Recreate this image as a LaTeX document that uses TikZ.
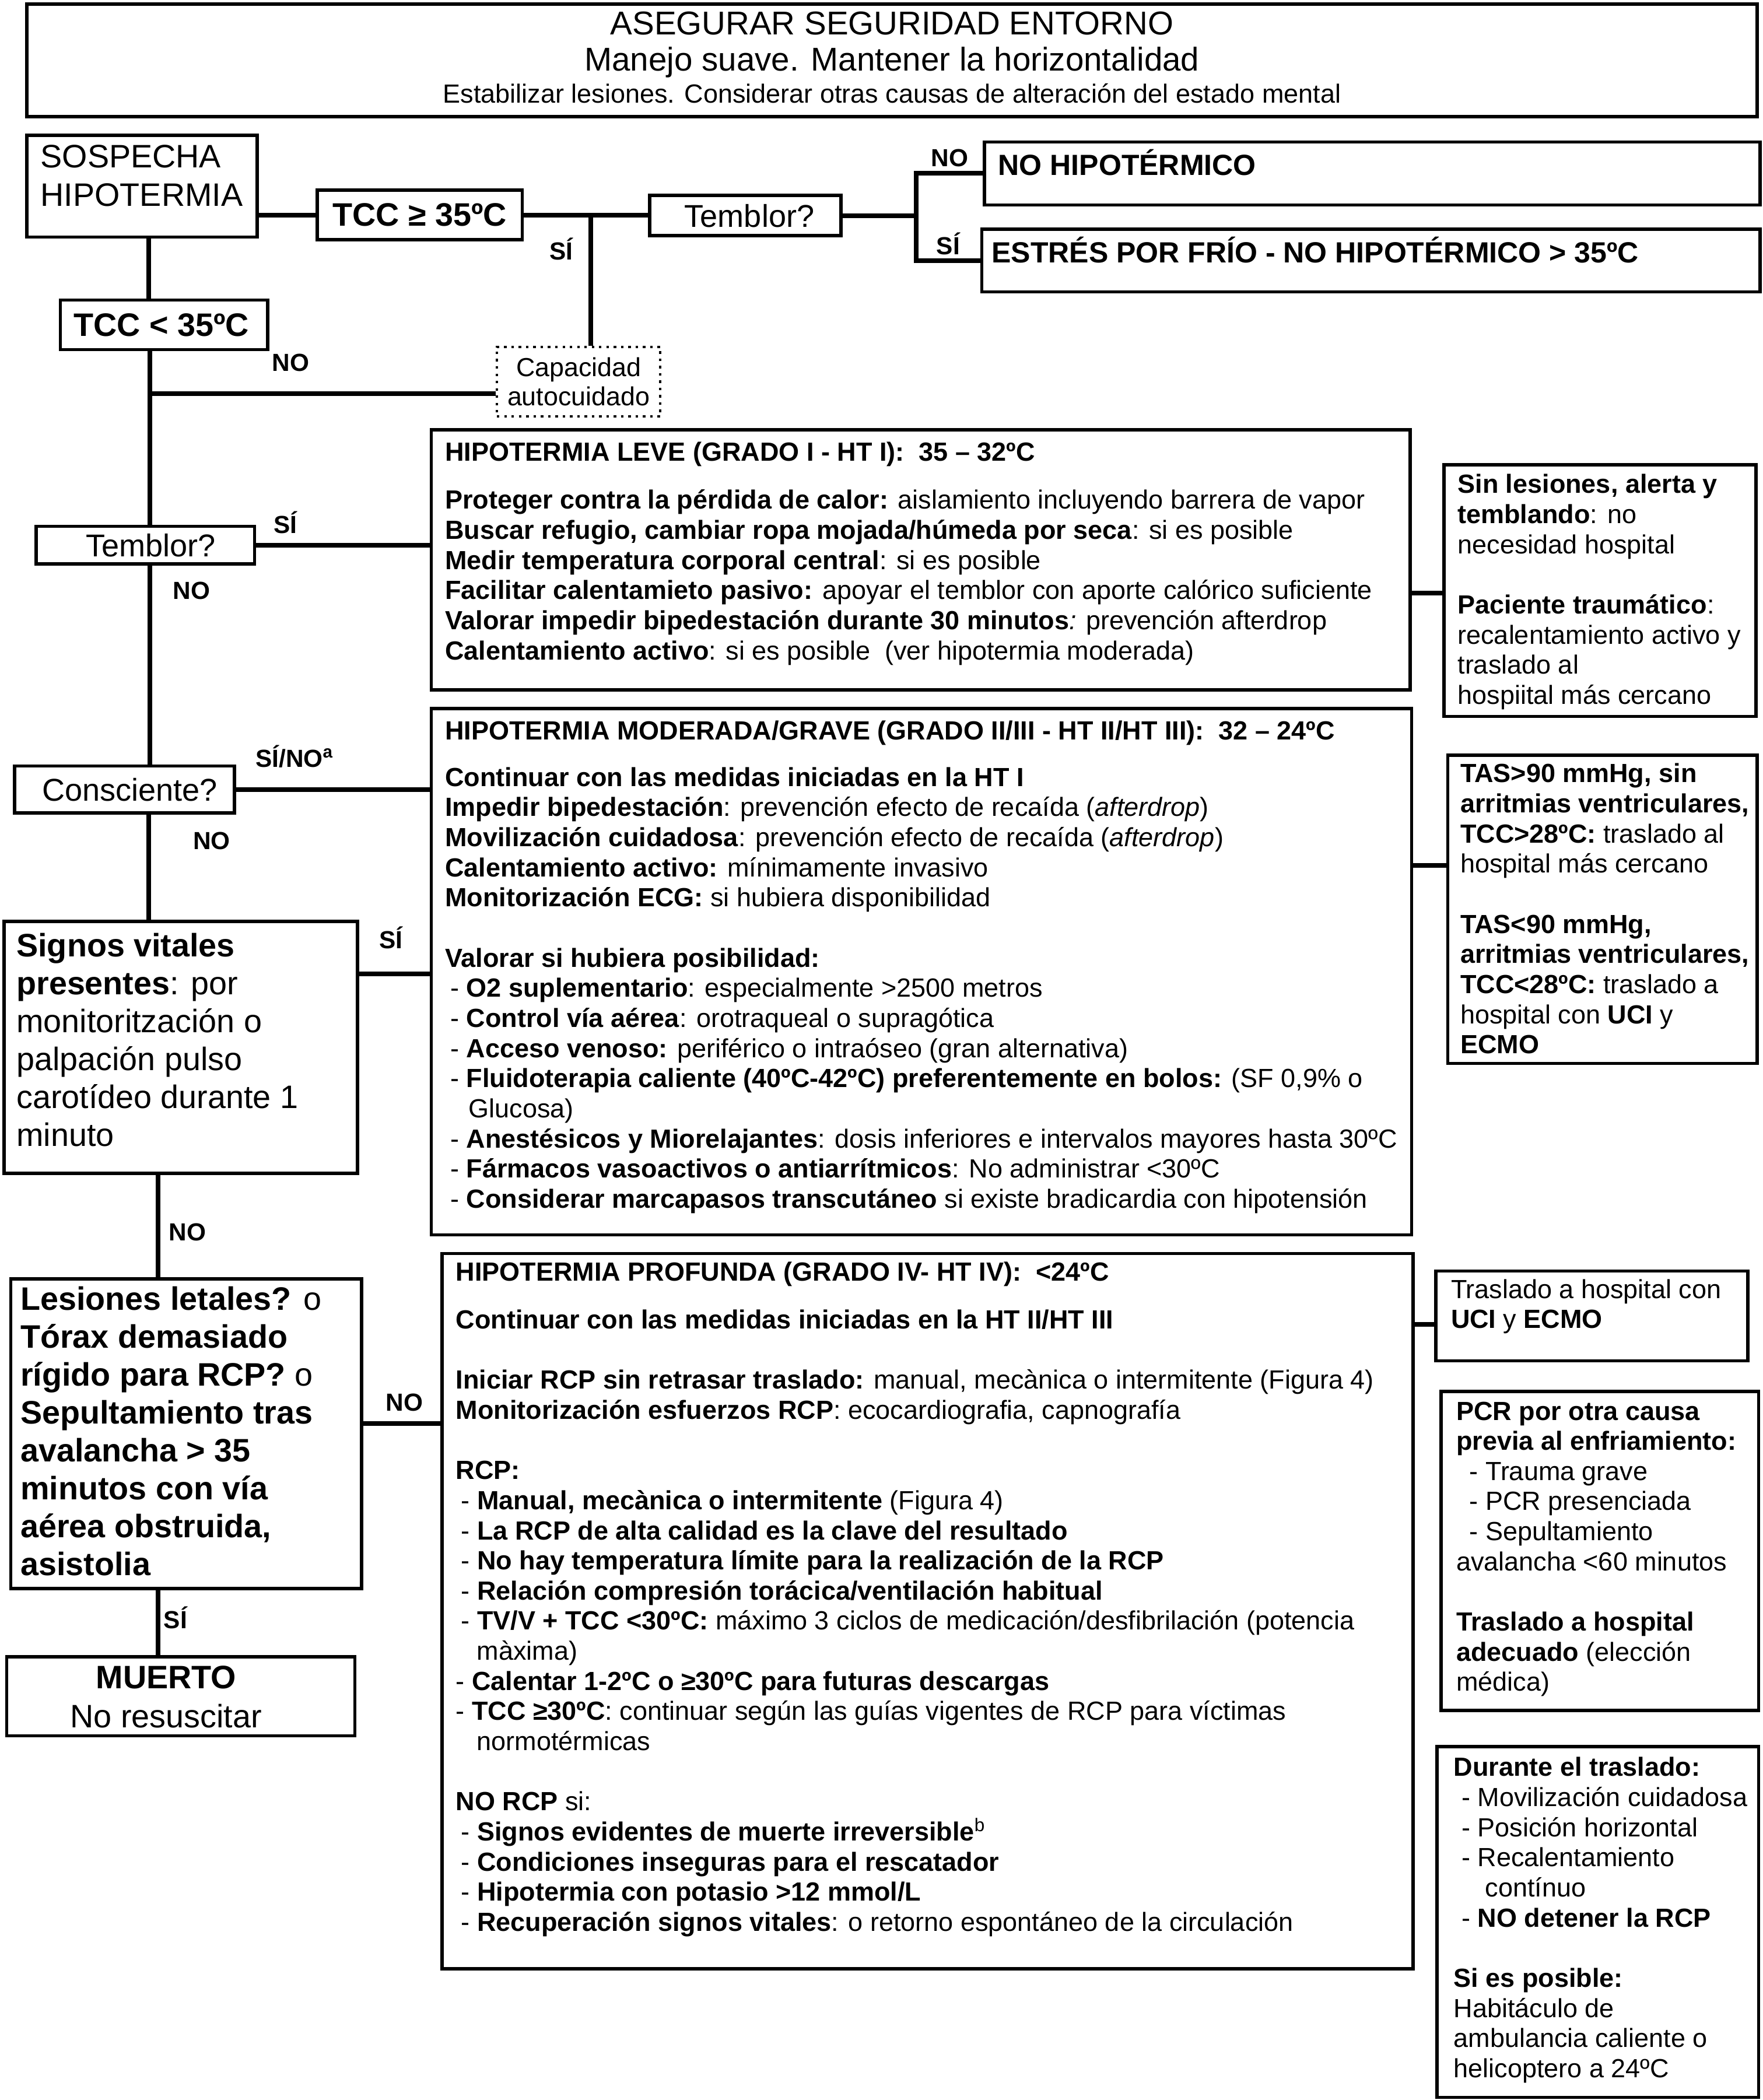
\documentclass[tikz,border=0pt]{standalone}
\usepackage{fontspec}
\setmainfont{Liberation Sans}
\usetikzlibrary{fit,calc}
\newcommand\fsBody{\fontsize{11.15}{12.8}\selectfont}
\newcommand\fsBig{\fontsize{13.8}{16.1}\selectfont}
\newcommand\fsHead{\fontsize{14}{16}\selectfont}
\newcommand\fsLab{\fontsize{10.5}{12}\selectfont}
\newcommand\fsMid{\fontsize{12.4}{14}\selectfont}
\newcommand\fsTem{\fontsize{13.4}{15}\selectfont}
\newcommand\strA{\rule{0pt}{11pt}}
\newcommand\strB{\rule{0pt}{14pt}}
\begin{document}
\begin{tikzpicture}[x=0.02cm,y=-0.02cm,
  box/.style={draw, line width=1.4pt, inner sep=0pt},
  dotbox/.style={draw, dotted, line width=1.1pt, inner sep=0pt},
  conn/.style={line width=2pt},
  txt/.style={inner sep=0pt, align=left, anchor=north west},
  ctr/.style={inner sep=0pt, anchor=center},
  lab/.style={inner sep=0pt, font=\fsLab\bfseries, anchor=center}]
\useasboundingbox (0,0) rectangle (1316,1568);

% header
\node[box, fit={(20,3) (1312,87)}] (hdr) {};
\node[inner sep=0pt, anchor=base, font=\fsHead] (h1) at (666,26) {ASEGURAR SEGURIDAD ENTORNO};
\node[inner sep=0pt, anchor=base, font=\fsHead] (h2) at (666,53) {Manejo suave. Mantener la horizontalidad};
\node[inner sep=0pt, anchor=base, font=\fsBody] (h3) at (666,77) {Estabilizar lesiones. Considerar otras causas de alteración del estado mental};

% top row
\node[box, fit={(20,101) (192,177)}] (sosp) {};
\node[txt, font=\fontsize{13.8}{16.4}\selectfont] (sospt) at (30,100.3) {\strB SOSPECHA\\HIPOTERMIA};
\node[box, fit={(237,142) (390,179)}] (tccge) {};
\node[ctr, font=\fsBig\bfseries] (tccget) at (tccge.center) {TCC ≥ 35ºC};
\node[box, fit={(485,146) (628,176)}] (temb1) {};
\node[ctr, font=\fsTem] (temb1t) at ($(temb1.center)+(3,0)$) {Temblor?};
\node[box, fit={(735,106) (1314,153)}] (nohipo) {};
\node[inner sep=0pt, anchor=base west, font=\fsMid\bfseries] (nohipot) at (745,131) {NO HIPOTÉRMICO};
\node[box, fit={(733,171) (1314,218)}] (estres) {};
\node[inner sep=0pt, anchor=base west, font=\fsMid\bfseries] (estrest) at (740,196) {ESTRÉS POR FRÍO - NO HIPOTÉRMICO > 35ºC};

\node[box, fit={(45,224) (200,261)}] (tccl) {};
\node[ctr, font=\fsBig\bfseries] (tcclt) at ($(tccl.center)+(-2,0)$) {TCC < 35ºC};
\node[dotbox, fit={(371,259) (493,311)}] (capac) {};
\node[ctr, font=\fontsize{11.1}{12.6}\selectfont, align=center] (capact) at (capac.center) {Capacidad\\autocuidado};

% left column
\node[box, fit={(27,393) (190,421)}] (temb2) {};
\node[ctr, font=\fsTem] (temb2t) at ($(temb2.center)+(4,0)$) {Temblor?};
\node[box, fit={(11,572) (175,607)}] (consc) {};
\node[ctr, font=\fsTem] (consct) at ($(consc.center)+(4,0)$) {Consciente?};
\node[box, fit={(3,688) (267,876)}] (signos) {};
\node[txt, font=\fsBig] (signost) at (12,689.3) {\strB\textbf{Signos vitales}\\\textbf{presentes}: por\\monitoritzación o\\palpación pulso\\carotídeo durante 1\\minuto};
\node[box, fit={(8,955) (270,1186)}] (lesion) {};
\node[txt, font=\fsBig] (lesiont) at (15,953.3) {\strB\textbf{Lesiones letales?} o\\\textbf{Tórax demasiado}\\\textbf{rígido para RCP?} o\\\textbf{Sepultamiento tras}\\\textbf{avalancha > 35}\\\textbf{minutos con vía}\\\textbf{aérea obstruida,}\\\textbf{asistolia}};
\node[box, fit={(5,1237) (265,1296)}] (muerto) {};
\node[inner sep=0pt, anchor=base, font=\fsBig\bfseries] (muerto1) at (124,1261) {MUERTO};
\node[inner sep=0pt, anchor=base, font=\fsBig] (muerto2) at (124,1290) {No resuscitar};

% HT I
\node[box, fit={(322,321) (1053,515)}] (ht1) {};
\node[txt, font=\fsBody] (ht1t) at (332,324.6) {\strA\textbf{HIPOTERMIA LEVE (GRADO I - HT I):\ \ 35 – 32ºC}\\[7.6pt]
\textbf{Proteger contra la pérdida de calor:} aislamiento incluyendo barrera de vapor\\
\textbf{Buscar refugio, cambiar ropa mojada/húmeda por seca}: si es posible\\
\textbf{Medir temperatura corporal central}: si es posible\\
\textbf{Facilitar calentamieto pasivo:} apoyar el temblor con aporte calórico suficiente\\
\textbf{Valorar impedir bipedestación durante 30 minutos}\textit{:} prevención afterdrop\\
\textbf{Calentamiento activo}: si es posible\ \ (ver hipotermia moderada)};

% HT II
\node[box, fit={(322,529) (1054,922)}] (ht2) {};
\node[txt, font=\fsBody] (ht2t) at (332,532.6) {\strA\textbf{HIPOTERMIA MODERADA/GRAVE (GRADO II/III - HT II/HT III):\ \ 32 – 24ºC}\\[7pt]
\textbf{Continuar con las medidas iniciadas en la HT I}\\
\textbf{Impedir bipedestación}: prevención efecto de recaída (\textit{afterdrop})\\
\textbf{Movilización cuidadosa}: prevención efecto de recaída (\textit{afterdrop})\\
\textbf{Calentamiento activo:} mínimamente invasivo\\
\textbf{Monitorización ECG:} si hubiera disponibilidad\\[12.8pt]
\textbf{Valorar si hubiera posibilidad:}\\
\hspace*{0.2em}- \textbf{O2 suplementario}: especialmente >2500 metros\\
\hspace*{0.2em}- \textbf{Control vía aérea}: orotraqueal o supragótica\\
\hspace*{0.2em}- \textbf{Acceso venoso:} periférico o intraóseo (gran alternativa)\\
\hspace*{0.2em}- \textbf{Fluidoterapia caliente (40ºC-42ºC) preferentemente en bolos:} (SF 0,9\% o\\
\hspace*{0.9em}Glucosa)\\
\hspace*{0.2em}- \textbf{Anestésicos y Miorelajantes}: dosis inferiores e intervalos mayores hasta 30ºC\\
\hspace*{0.2em}- \textbf{Fármacos vasoactivos o antiarrítmicos}: No administrar <30ºC\\
\hspace*{0.2em}- \textbf{Considerar marcapasos transcutáneo} si existe bradicardia con hipotensión};

% HT IV
\node[box, fit={(330,936) (1055,1470)}] (ht4) {};
\node[txt, font=\fsBody] (ht4t) at (340,936.6) {\strA\textbf{HIPOTERMIA PROFUNDA (GRADO IV- HT IV):\ \ <24ºC}\\[7.6pt]
\textbf{Continuar con las medidas iniciadas en la HT II/HT III}\\[12.8pt]
\textbf{Iniciar RCP sin retrasar traslado:} manual, mecànica o intermitente (Figura 4)\\
\textbf{Monitorización esfuerzos RCP}: ecocardiografia, capnografía\\[12.8pt]
\textbf{RCP:}\\
\hspace*{0.2em}- \textbf{Manual, mecànica o intermitente} (Figura 4)\\
\hspace*{0.2em}- \textbf{La RCP de alta calidad es la clave del resultado}\\
\hspace*{0.2em}- \textbf{No hay temperatura límite para la realización de la RCP}\\
\hspace*{0.2em}- \textbf{Relación compresión torácica/ventilación habitual}\\
\hspace*{0.2em}- \textbf{TV/V + TCC <30ºC:} máximo 3 ciclos de medicación/desfibrilación (potencia\\
\hspace*{0.8em}màxima)\\
- \textbf{Calentar 1-2ºC o ≥30ºC para futuras descargas}\\
- \textbf{TCC ≥30ºC}: continuar según las guías vigentes de RCP para víctimas\\
\hspace*{0.8em}normotérmicas\\[12.8pt]
\textbf{NO RCP} si:\\
\hspace*{0.2em}- \textbf{Signos evidentes de muerte irreversible}\textsuperscript{b}\\
\hspace*{0.2em}- \textbf{Condiciones inseguras para el rescatador}\\
\hspace*{0.2em}- \textbf{Hipotermia con potasio >12 mmol/L}\\
\hspace*{0.2em}- \textbf{Recuperación signos vitales}: o retorno espontáneo de la circulación};

% right column
\node[box, fit={(1078,347) (1311,535)}] (rb1) {};
\node[txt, font=\fsBody] (rb1t) at (1088,348.6) {\strA\textbf{Sin lesiones, alerta y}\\
\textbf{temblando}: no\\
necesidad hospital\\[12.8pt]
\textbf{Paciente traumático}:\\
recalentamiento activo y\\
traslado al\\
hospiital más cercano};
\node[box, fit={(1081,564) (1312,794)}] (rb2) {};
\node[txt, font=\fsBody] (rb2t) at (1090,564.6) {\strA\textbf{TAS>90 mmHg, sin}\\
\textbf{arritmias ventriculares,}\\
\textbf{TCC>28ºC:} traslado al\\
hospital más cercano\\[12.8pt]
\textbf{TAS<90 mmHg,}\\
\textbf{arritmias ventriculares,}\\
\textbf{TCC<28ºC:} traslado a\\
hospital con \textbf{UCI} y\\
\textbf{ECMO}};
\node[box, fit={(1072,949) (1305,1016)}] (rb3) {};
\node[txt, font=\fsBody] (rb3t) at (1083,949.6) {\strA Traslado a hospital con\\\textbf{UCI} y \textbf{ECMO}};
\node[box, fit={(1076,1039) (1313,1277)}] (rb4) {};
\node[txt, font=\fsBody] (rb4t) at (1087,1040.6) {\strA\textbf{PCR por otra causa}\\
\textbf{previa al enfriamiento:}\\
\hspace*{0.5em}- Trauma grave\\
\hspace*{0.5em}- PCR presenciada\\
\hspace*{0.5em}- Sepultamiento\\
avalancha <60 minutos\\[12.8pt]
\textbf{Traslado a hospital}\\
\textbf{adecuado} (elección\\
médica)};
\node[box, fit={(1073,1304) (1313,1566)}] (rb5) {};
\node[txt, font=\fsBody] (rb5t) at (1085,1306.6) {\strA\textbf{Durante el traslado:}\\
\hspace*{0.3em}- Movilización cuidadosa\\
\hspace*{0.3em}- Posición horizontal\\
\hspace*{0.3em}- Recalentamiento\\
\hspace*{1.2em}contínuo\\
\hspace*{0.3em}- \textbf{NO detener la RCP}\\[12.8pt]
\textbf{Si es posible:}\\
Habitáculo de\\
ambulancia caliente o\\
helicoptero a 24ºC};

% coordinates for connector lines
\coordinate (jsi) at (441,0);
\coordinate (jt) at (684,161);
\coordinate (tx1) at (111,0);
\coordinate (tx2) at (112,0);
\coordinate (tx4) at (118,0);
\coordinate (jc) at (112,294);
\coordinate (js) at (0,727);
\coordinate (jl) at (0,1063);
\coordinate (jr1) at (0,443);
\coordinate (jr2) at (0,646);
\coordinate (jr3) at (0,989);

% connectors
\draw[conn] (tccge.west) -- (tccge.west -| sosp.east);
\draw[conn] (tccge.east) -- (tccge.east -| temb1.west);
\draw[conn] (tccge.east -| jsi) -- (capac.north -| jsi);
\draw[conn] (temb1.east) -- (temb1.east -| jt);
\draw[conn] (nohipo.west) -| (jt |- estres.west) -- (estres.west);
\draw[conn] (sosp.south -| tx1) -- (tccl.north -| tx1);
\draw[conn] (tccl.south -| tx2) -- (temb2.north -| tx2);
\draw[conn] (jc) -- (jc -| capac.west);
\draw[conn] (temb2.east) -- (temb2.east -| ht1.west);
\draw[conn] (temb2.south -| tx2) -- (consc.north -| tx2);
\draw[conn] (consc.east) -- (consc.east -| ht2.west);
\draw[conn] (consc.south -| tx1) -- (signos.north -| tx1);
\draw[conn] (signos.east |- js) -- (ht2.west |- js);
\draw[conn] (signos.south -| tx4) -- (lesion.north -| tx4);
\draw[conn] (lesion.east |- jl) -- (ht4.west |- jl);
\draw[conn] (lesion.south -| tx4) -- (muerto.north -| tx4);
\draw[conn] (ht1.east |- jr1) -- (rb1.west |- jr1);
\draw[conn] (ht2.east |- jr2) -- (rb2.west |- jr2);
\draw[conn] (ht4.east |- jr3) -- (rb3.west |- jr3);

% labels
\node[lab] (l1) at (419,186) {SÍ};
\node[lab] (l2) at (709,118) {NO};
\node[lab] (l3) at (708,182) {SÍ};
\node[lab] (l4) at (217,271) {NO};
\node[lab] (l5) at (213,390) {SÍ};
\node[lab] (l6) at (143,441) {NO};
\node[lab] (l7) at (220,565) {SÍ/NO\textsuperscript{a}};
\node[lab] (l8) at (158,628) {NO};
\node[lab] (l9) at (292,700) {SÍ};
\node[lab] (l10) at (140,920) {NO};
\node[lab] (l11) at (302,1047) {NO};
\node[lab] (l12) at (131,1208) {SÍ};
\end{tikzpicture}
\end{document}
